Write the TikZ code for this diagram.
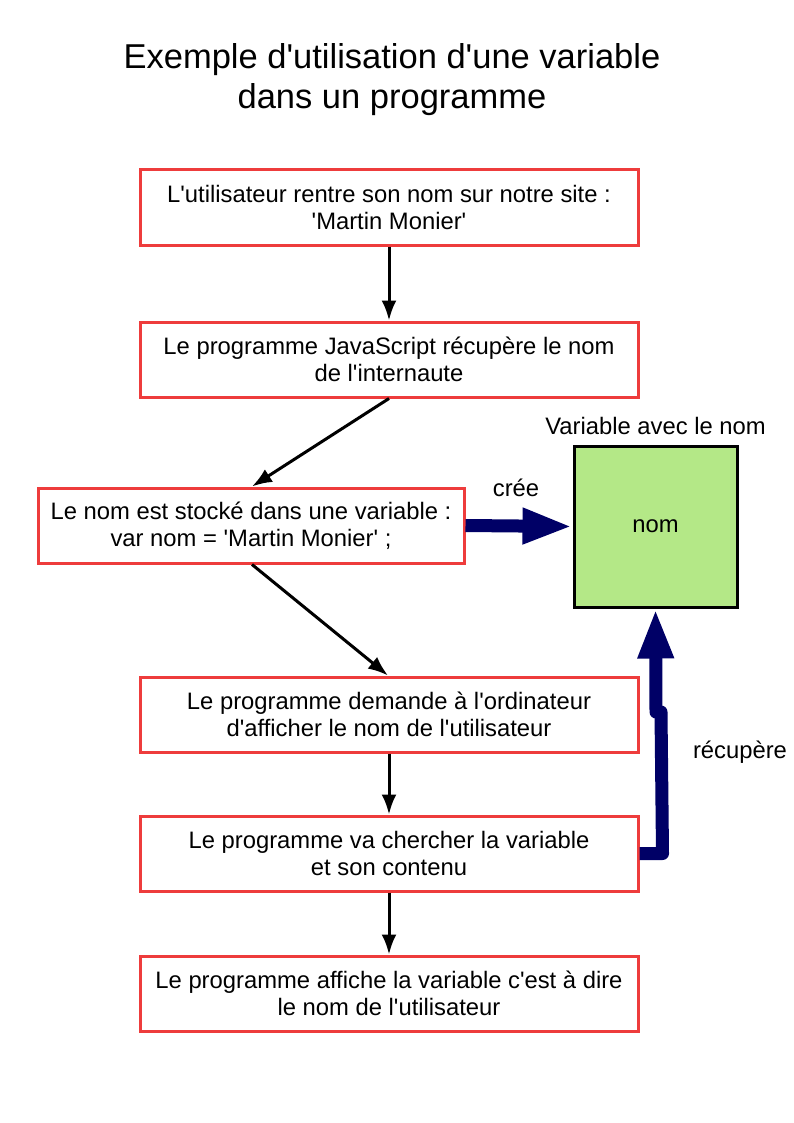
\documentclass[tikz,border=0pt]{standalone}
\usepackage{fontspec}
\setmainfont{Liberation Sans}[Ligatures=TeXOff]
\usetikzlibrary{arrows.meta,positioning,calc}
\definecolor{boxred}{RGB}{238,60,60}
\definecolor{varfill}{RGB}{180,232,135}
\definecolor{navy}{RGB}{0,0,102}

\begin{document}
\begin{tikzpicture}[x=1pt,y=-1pt,
	every node/.style={font=\fontsize{23.8}{27}\selectfont,align=center},
	stepbox/.style={draw=boxred,line width=3pt,fill=white,minimum width=498pt,minimum height=75pt,inner sep=0pt},
	varbox/.style={draw=black,line width=3pt,fill=varfill,minimum width=163pt,minimum height=161pt,inner sep=0pt},
	flow/.style={line width=3pt,-{Latex[length=20pt,width=15pt]}},
	bigarrow/.style={navy,line width=13pt,-{Triangle[length=50pt,width=33pt]}}]
		\useasboundingbox (0,0) rectangle (794,1123);
		
		\node (title) at (392,80) [font=\fontsize{34.5}{40}\selectfont] {Exemple d'utilisation d'une variable\\dans un programme};
		
		\node (b1) [stepbox] at (389,207.5) {L'utilisateur rentre son nom sur notre site :\\'Martin Monier'};
		\node (b2) [stepbox] at (389,359.5) {Le programme JavaScript récupère le nom\\de l'internaute};
		\node (b3) [stepbox,minimum width=426pt] at (251,525.5) {Le nom est stocké dans une variable :\\var nom = 'Martin Monier' ;};
		\node (b4) [stepbox] at (389,714.5) {Le programme demande à l'ordinateur\\d'afficher le nom de l'utilisateur};
		\node (b5) [stepbox] at (389,853.5) {Le programme va chercher la variable\\et son contenu};
		\node (b6) [stepbox] at (389,993.5) {Le programme affiche la variable c'est à dire\\le nom de l'utilisateur};
		
		\node (var) [varbox] at (655.5,526.5) {\raisebox{-3pt}{nom}};
		\node (varlbl) [above=6pt of var] {Variable avec le nom};
		\node (cree) at (516,488) {crée};
		\node (recup) at (740,752) {récupère};
		
		\draw[flow] (b1) -- (b2);
		\draw[flow] (b2.south) -- ($(b3.north)+(1,0)$);
		\draw[flow] ($(b3.south)+(1,0)$) -- ($(b4.north)+(-1,0)$);
		\draw[flow] (b4) -- (b5);
		\draw[flow] (b5) -- (b6);
		
		\draw[bigarrow] (b3.east) -- (var.west);
		\draw[bigarrow,line join=round] (b5.east) -- ++(23,0) -- (661,712) -- (656,712) -- (var.south);
\end{tikzpicture}
\end{document}
